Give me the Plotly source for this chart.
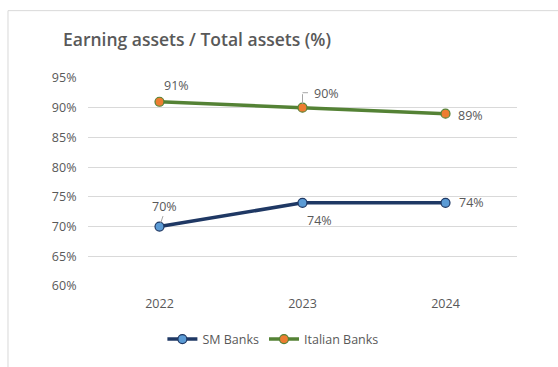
import plotly.graph_objects as go

years = ["2022", "2023", "2024"]
sm_banks = [70, 74, 74]
italian_banks = [91, 90, 89]
y_ticks = [60, 65, 70, 75, 80, 85, 90, 95]

GRAY = "#595959"
FONT = "Open Sans"
xpos = list(range(len(years)))

fig = go.Figure()
fig.add_trace(go.Scatter(
    x=xpos, y=sm_banks, name="SM Banks", mode="lines+markers",
    line=dict(color="#1F3864", width=3.5),
    marker=dict(size=9, color="#5B9BD5", line=dict(color="#1F3864", width=1.2)),
))
fig.add_trace(go.Scatter(
    x=xpos, y=italian_banks, name="Italian Banks", mode="lines+markers",
    line=dict(color="#548235", width=3.5),
    marker=dict(size=9, color="#ED7D31", line=dict(color="#548235", width=1.2)),
))

# data labels: (x index, value, x offset, y offset)
label_specs = [
    (0, italian_banks[0], 17, 16),
    (1, italian_banks[1], 24, 14),
    (2, italian_banks[2], 25, -2),
    (0, sm_banks[0], 5, 20),
    (1, sm_banks[1], 17, -18),
    (2, sm_banks[2], 26, 0),
]
for xi, v, dx, dy in label_specs:
    fig.add_annotation(
        x=xi, y=v, xref="x", yref="y", text=f"{v}%", showarrow=False,
        xshift=dx, yshift=dy, font=dict(family=FONT, size=12.5, color=GRAY),
    )

# leader lines for displaced labels
fig.add_annotation(x=1, y=italian_banks[1], xref="x", yref="y", text="",
                   showarrow=True, ax=0, ay=-15, arrowhead=0, arrowwidth=1,
                   arrowcolor="#A6A6A6", standoff=4)
fig.add_annotation(x=1, y=italian_banks[1], xref="x", yref="y", text="",
                   showarrow=True, ax=7, ay=0, arrowhead=0, arrowwidth=1,
                   arrowcolor="#A6A6A6", yshift=15)
fig.add_annotation(x=0, y=sm_banks[0], xref="x", yref="y", text="",
                   showarrow=True, ax=4, ay=-12, arrowhead=0, arrowwidth=1,
                   arrowcolor="#A6A6A6", standoff=4)

# chart frame
fig.add_shape(type="rect", xref="paper", yref="paper",
              x0=-0.1865, x1=1.2, y0=-0.5, y1=1.3238,
              line=dict(color="#D9D9D9", width=1), fillcolor="rgba(0,0,0,0)",
              layer="below")

fig.update_layout(
    width=558, height=367,
    margin=dict(l=88, r=41, t=78, b=79),
    paper_bgcolor="white", plot_bgcolor="white",
    title=dict(text="Earning assets / Total assets (%)", x=63 / 558, xanchor="left",
               y=1 - 40 / 367, yanchor="middle",
               font=dict(family=FONT, size=17.5, color=GRAY, weight=600)),
    font=dict(family=FONT, size=12, color=GRAY),
    showlegend=True,
    legend=dict(orientation="h", x=0.431, xanchor="center", y=-0.257, yanchor="middle",
                font=dict(family=FONT, size=12.5, color=GRAY), itemwidth=30,
                tracegroupgap=0),
    xaxis=dict(range=[-0.5, 2.5], tickvals=xpos, ticktext=years, showgrid=False,
               zeroline=False, showline=False, ticks="outside", ticklen=6,
               tickcolor="rgba(0,0,0,0)", tickfont=dict(size=12.5, color=GRAY)),
    yaxis=dict(range=[60, 95], tickvals=y_ticks, ticktext=[f"{t}%" for t in y_ticks],
               showgrid=True, gridcolor="#D9D9D9", gridwidth=1, zeroline=False,
               showline=False, ticks="outside", ticklen=8, tickcolor="rgba(0,0,0,0)",
               tickfont=dict(size=12.5, color=GRAY)),
)

fig.write_html("out.html")
